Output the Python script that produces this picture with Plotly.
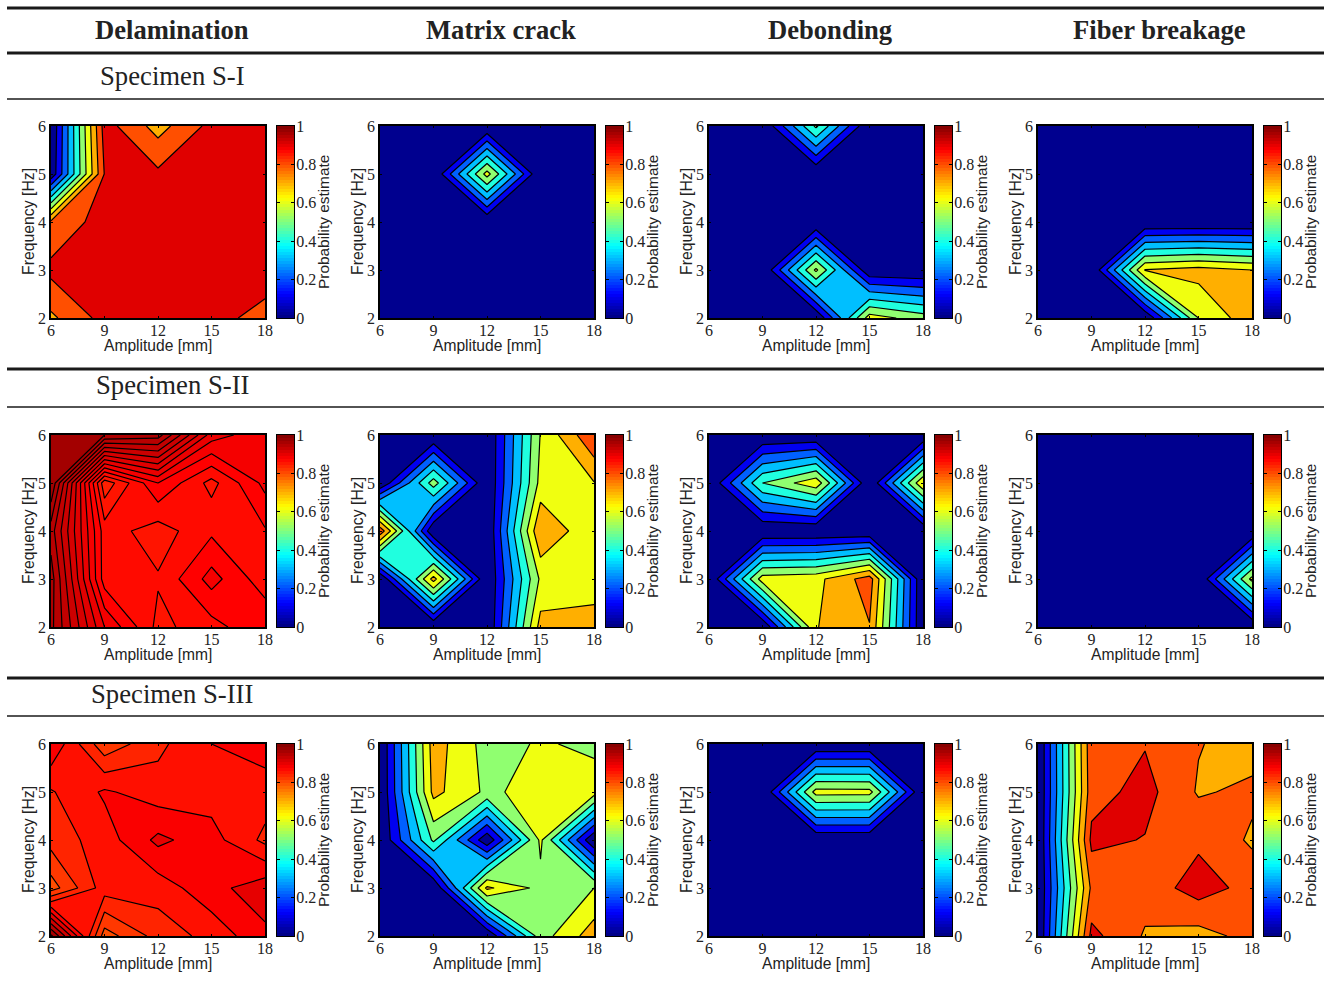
import plotly.graph_objects as go

W, H = 1325, 985
amplitude = [6, 9, 12, 15, 18]
frequency = [2, 3, 4, 5, 6]
damage_types = ["Delamination", "Matrix crack", "Debonding", "Fiber breakage"]
specimens = ["Specimen S-I", "Specimen S-II", "Specimen S-III"]
cbar_ticks = [0, 0.2, 0.4, 0.6, 0.8, 1]
cbar_labels = ["0", "0.2", "0.4", "0.6", "0.8", "1"]
x_title = "Amplitude [mm]"
y_title = "Frequency [Hz]"
cbar_title = "Probability estimate"

# rows run from 2 Hz to 6 Hz, columns from 6 mm to 18 mm
s1_delamination = [[.78, .936, .95, .92, .88],
                   [.927, .95, .96, .95, .93],
                   [.82, .946, .96, .96, .95],
                   [.02, .905, .92, .95, .95],
                   [0, .944, .76, .93, .93]]
s1_matrix = [[0, 0, 0, 0, 0],
             [0, 0, 0, 0, 0],
             [0, 0, 0, 0, 0],
             [0, 0, .64, 0, 0],
             [0, 0, 0, 0, 0]]
s1_debonding = [[0, 0, 0, .65, .55],
                [0, 0, .62, .01, 0],
                [0, 0, 0, 0, 0],
                [0, 0, 0, 0, 0],
                [0, 0, .52, 0, 0]]
s1_fiber = [[0, 0, 0, .6, .767],
            [0, 0, .705, .74, .7],
            [0, 0, 0, 0, 0],
            [0, 0, 0, 0, 0],
            [0, 0, 0, 0, 0]]
s2_delamination = [[.943, .88, .847, .856, .869],
                   [.945, .855, .851, .874, .854],
                   [.935, .855, .845, .858, .859],
                   [.96, .833, .87, .8465, .873],
                   [.965, .95, .945, .885, .873]]
s2_matrix = [[0, 0, 0, .74, .77],
             [0, .74, 0, .618, .62],
             [.87, 0, 0, .8, .61],
             [0, .55, 0, .633, .695],
             [0, 0, 0, .605, .89]]
s2_debonding = [[0, 0, .695, .795, 0],
                [0, .65, .67, .85, 0],
                [0, 0, 0, 0, 0],
                [0, .5, .67, 0, .69],
                [0, 0, 0, 0, 0]]
s2_fiber = [[0, 0, 0, 0, 0],
            [0, 0, 0, 0, .63],
            [0, 0, 0, 0, 0],
            [0, 0, 0, 0, 0],
            [0, 0, 0, 0, 0]]
s3_delamination = [[.985, .81, .848, .867, .895],
                   [.81, .87, .869, .893, .912],
                   [.848, .87, .905, .888, .855],
                   [.858, .883, .869, .871, .87],
                   [.898, .826, .855, .88, .89]]
s3_matrix = [[0, 0, 0, .553, .753],
             [0, 0, .72, .57, .6],
             [0, .52, .02, .62, 0],
             [0, .73, .58, .64, .647],
             [0, .75, .56, .61, .58]]
s3_debonding = [[0, 0, 0, 0, 0],
                [0, 0, 0, 0, 0],
                [0, 0, 0, 0, 0],
                [0, 0, .64, .635, 0],
                [0, 0, 0, 0, 0]]
s3_fiber = [[0, .93, .79, .76, .835],
            [0, .82, .84, .947, .864],
            [0, .925, .895, .88, .785],
            [0, .86, .935, .79, .82],
            [0, .87, .894, .805, .76]]

panels = [[s1_delamination, s1_matrix, s1_debonding, s1_fiber],
          [s2_delamination, s2_matrix, s2_debonding, s2_fiber],
          [s3_delamination, s3_matrix, s3_debonding, s3_fiber]]
# band fill colours, for bands 0-0.1, 0.1-0.2, ... 0.9-1, 1+
band_colors = ["#00008f", "#0000f0", "#0060ff", "#00bfff", "#20ffdf", "#90ff70",
               "#f0ff10", "#ffaf00", "#ff4f00", "#e00000", "#800000"]
# contour levels (first level, step, count, colour offset) for the two finer panels
special_levels = {(1, 0): (0.84, 0.01, 12, 0.015), (2, 0): (0.82, 0.02, 9, 0.0)}

col_left = [51, 380, 709, 1038]
row_top = [126, 435, 744]
plot_w, plot_h = 214, 192
cbar_gap, cbar_w = 12, 17
rule_y = [(8, 3), (53, 3), (99, 1.5), (369, 3), (407, 1.5), (678, 3), (716, 1.5)]
spec_y = [76, 385, 694]
head_x = [172, 501, 830, 1159]
SERIF = "Liberation Serif"
SANS = "Liberation Sans"
TEXT = "#222"


def jet(v, off=1 / 64):
    v = min(1.0, v + off)
    cl = lambda a: max(0.0, min(1.0, a))
    r = cl(min(4 * v - 1.5, -4 * v + 4.5))
    g = cl(min(4 * v - 0.5, -4 * v + 3.5))
    b = cl(min(4 * v + 0.5, -4 * v + 2.5))
    return f"rgb({round(r*255)},{round(g*255)},{round(b*255)})"


def band_scale(start, step, n, off):
    # plotly fills band j with the colour at (j+1)/n, and the background at 0
    return [[i / n, jet(max(0.0, start + (i - 1) * step), off)] for i in range(n + 1)]


def default_scale():
    n = len(band_colors) - 1
    return [[i / n, band_colors[i]] for i in range(n + 1)]


def note(text, x, y, font, size, angle=0):
    return dict(text=text, x=x / W, y=1 - y / H, xref="paper", yref="paper", xanchor="center",
                yanchor="middle", showarrow=False, textangle=angle,
                font=dict(family=font, size=size, color=TEXT))


smooth_jet = [[i / 64, jet(i / 64, 0.0)] for i in range(65)]
cbar_steps = [(i + 0.5) / 64 for i in range(64)]
fig = go.Figure()
layout = {}
annotations = []
for r, row in enumerate(panels):
    for c, z in enumerate(row):
        k = r * 4 + c + 1
        xn, yn = f"x{k}", f"y{k}"
        if (r, c) in special_levels:
            start, step, n, off = special_levels[(r, c)]
            scale = band_scale(start, step, n, off)
        else:
            start, step, n = 0.1, 0.1, 10
            scale = default_scale()
        fig.add_trace(go.Contour(
            x=amplitude, y=frequency, z=z, xaxis=xn, yaxis=yn, showscale=False,
            autocontour=False, hoverinfo="skip",
            contours=dict(start=start, end=start + (n - 1) * step + step * 0.01, size=step,
                          coloring="fill", showlines=True),
            colorscale=scale,
            line=dict(color="black", width=1.2, smoothing=0)))
        x0, top = col_left[c], row_top[r]
        axis = dict(showgrid=False, zeroline=False, showline=True, linecolor="black", linewidth=1.5,
                    mirror="ticks", ticks="inside", ticklen=2.5, tickcolor="black",
                    tickfont=dict(family=SERIF, size=16, color=TEXT), tickmode="array")
        ydom = [1 - (top + plot_h) / H, 1 - top / H]
        layout[f"xaxis{k}"] = dict(axis, anchor=yn, domain=[x0 / W, (x0 + plot_w) / W],
                                   range=[amplitude[0], amplitude[-1]], tickvals=amplitude,
                                   ticklabelstandoff=-3)
        layout[f"yaxis{k}"] = dict(axis, anchor=xn, domain=ydom,
                                   range=[frequency[0], frequency[-1]], tickvals=frequency)
        # colour bar: its own small axes with a 64-step jet ramp
        cx, cy = f"x{k + 12}", f"y{k + 12}"
        bar_left = x0 + plot_w + cbar_gap
        fig.add_trace(go.Heatmap(x=[0], y=cbar_steps, z=[[v] for v in cbar_steps], xaxis=cx, yaxis=cy,
                                 zmin=0, zmax=1, colorscale=smooth_jet, showscale=False,
                                 hoverinfo="skip"))
        layout[f"xaxis{k + 12}"] = dict(anchor=cy, domain=[bar_left / W, (bar_left + cbar_w) / W],
                                        range=[-0.5, 0.5], showticklabels=False, ticks="",
                                        showgrid=False, zeroline=False, showline=True,
                                        linecolor="black", linewidth=1.2, mirror=True)
        layout[f"yaxis{k + 12}"] = dict(axis, anchor=cx, domain=ydom, side="right", range=[0, 1],
                                        tickvals=cbar_ticks, ticktext=cbar_labels,
                                        linewidth=1.2, ticklen=3, ticklabelstandoff=-2)
        annotations.append(note(x_title, x0 + 107, top + plot_h + 27, SANS, 15.6))
        annotations.append(note(y_title, x0 - 23, top + 96, SANS, 15.8, -90))
        annotations.append(note(cbar_title, x0 + 272, top + 96, SANS, 15.4, -90))

shapes = [dict(type="line", xref="paper", yref="paper", x0=7 / W, x1=1324 / W,
               y0=1 - y / H, y1=1 - y / H, line=dict(color="#1a1a1a", width=w)) for y, w in rule_y]
for name, x in zip(damage_types, head_x):
    annotations.append(note(f"<b>{name}</b>", x, 30, SERIF, 26.6))
for name, y in zip(specimens, spec_y):
    annotations.append(note(name, 172, y, SERIF, 26.7))

fig.update_layout(width=W, height=H, margin=dict(l=0, r=0, t=0, b=0, autoexpand=False),
                  showlegend=False, paper_bgcolor="white", plot_bgcolor="white", shapes=shapes,
                  annotations=annotations, **layout)
fig.write_html("out.html", config={"displayModeBar": False},
               post_script="document.body.style.margin='0';")
